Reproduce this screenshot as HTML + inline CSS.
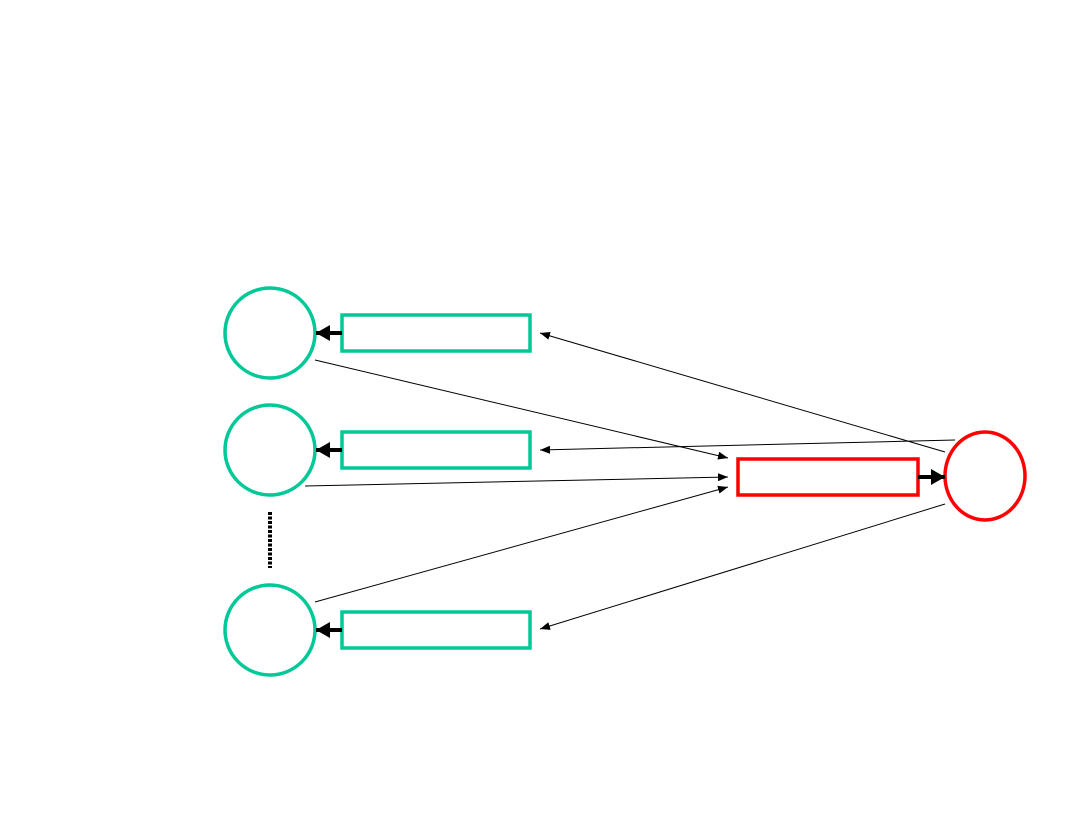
<!DOCTYPE html>
<html><head><style>body{margin:0;background:#fff}</style></head><body>
<svg width="1080" height="810" viewBox="0 0 1080 810" xmlns="http://www.w3.org/2000/svg">
<defs>
<marker id="a" markerWidth="10" markerHeight="8" refX="10" refY="4" orient="auto" markerUnits="userSpaceOnUse"><path d="M0,0L10,4L0,8z" fill="#000"/></marker>
<marker id="b" markerWidth="14" markerHeight="16" refX="14" refY="8" orient="auto" markerUnits="userSpaceOnUse"><path d="M0,0L14,8L0,16z" fill="#000"/></marker>
</defs>
<g fill="none" stroke="#00c896" stroke-width="3.5">
<circle cx="270" cy="333" r="45"/>
<circle cx="270" cy="450" r="45"/>
<circle cx="270" cy="630" r="45"/>
<rect x="342" y="315" width="188" height="36"/>
<rect x="342" y="432" width="188" height="36"/>
<rect x="342" y="612" width="188" height="36"/>
</g>
<g fill="none" stroke="#ff0000" stroke-width="3.5">
<rect x="738" y="459" width="180" height="36"/>
<ellipse cx="985" cy="476" rx="40" ry="44"/>
</g>
<line x1="270" y1="512" x2="270" y2="568" stroke="#000" stroke-width="4" stroke-dasharray="3,1.5"/>
<g stroke="#000" stroke-width="4">
<line x1="342" y1="333" x2="316" y2="333" marker-end="url(#b)"/>
<line x1="342" y1="450" x2="316" y2="450" marker-end="url(#b)"/>
<line x1="342" y1="630" x2="316" y2="630" marker-end="url(#b)"/>
<line x1="918" y1="477" x2="945" y2="477" marker-end="url(#b)"/>
</g>
<g stroke="#000" stroke-width="1">
<line x1="315" y1="360" x2="728" y2="458" marker-end="url(#a)"/>
<line x1="305" y1="486" x2="728" y2="477" marker-end="url(#a)"/>
<line x1="315" y1="602" x2="728" y2="487" marker-end="url(#a)"/>
<line x1="955" y1="440" x2="540" y2="450" marker-end="url(#a)"/>
<line x1="945" y1="452" x2="540" y2="333" marker-end="url(#a)"/>
<line x1="945" y1="504" x2="540" y2="629" marker-end="url(#a)"/>
</g>
</svg>
</body></html>
